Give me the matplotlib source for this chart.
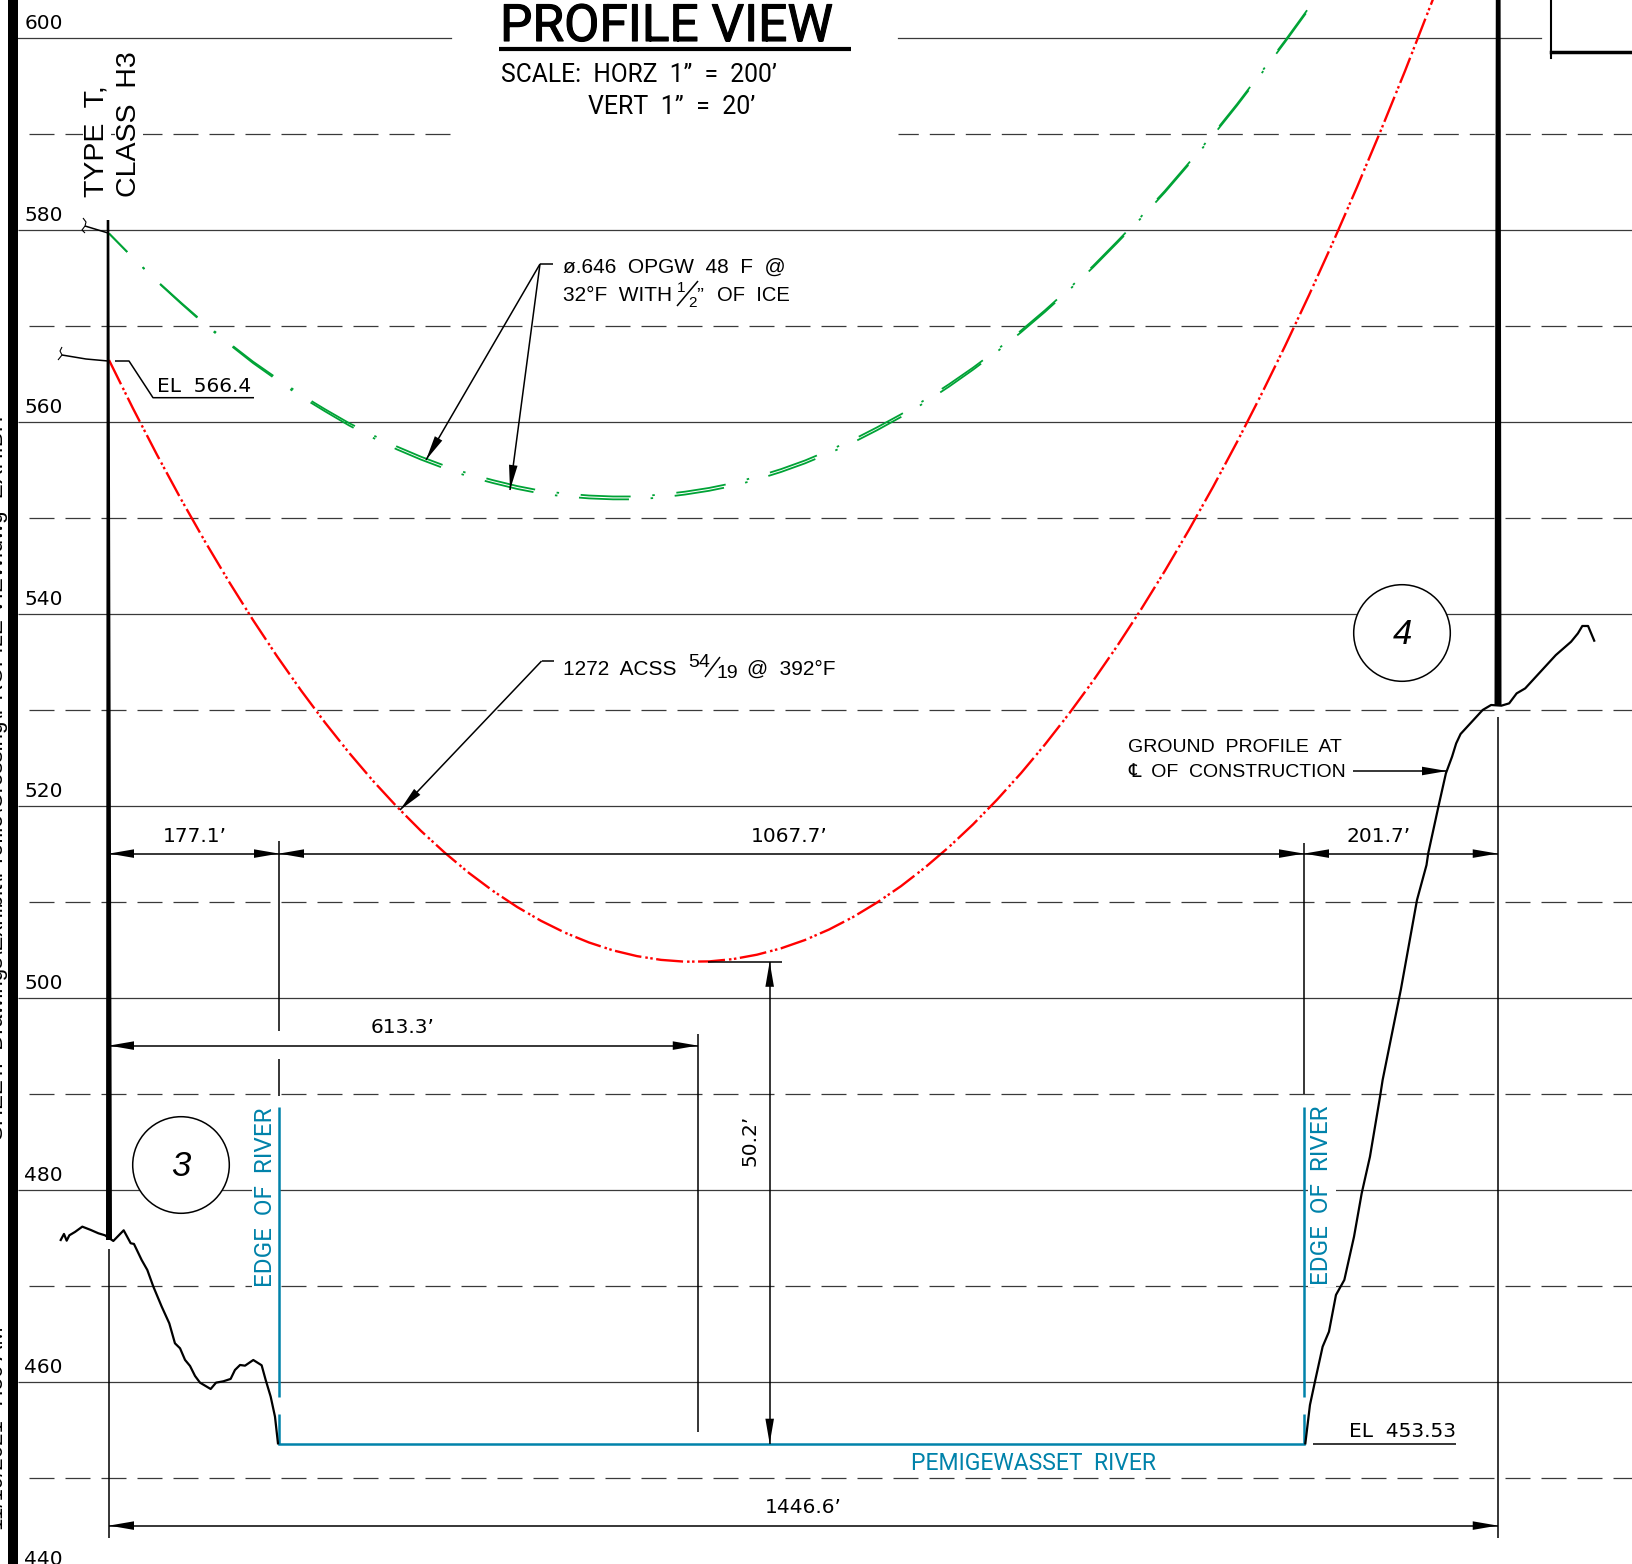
import matplotlib
matplotlib.use("Agg")
import matplotlib.pyplot as plt
from matplotlib.patches import Ellipse, Polygon
import matplotlib.patheffects as pe

plt.rcParams['lines.scale_dashes'] = False
plt.rcParams['font.family'] = ['Liberation Sans', 'DejaVu Sans']
NARROW = ['Roboto', 'Liberation Sans', 'DejaVu Sans']
WIDE = ['DejaVu Sans']

# ---------- data (station ft, elevation ft) ----------
solid_elevs = [460, 480, 500, 520, 540, 560, 580]
dashed_elevs = [450, 470, 490, 510, 530, 550, 570]
tick_labels = [440, 460, 480, 500, 520, 540, 560, 580, 600]

acss_station = [0, 25, 50, 75, 100, 125, 150, 175, 200, 225, 250, 275, 300, 325, 350, 375, 400, 425,
                450, 475, 500, 525, 550, 575, 600, 625, 650, 675, 700, 725, 750, 775, 800, 825, 850,
                875, 900, 925, 950, 975, 1000, 1025, 1050, 1075, 1100, 1125, 1150, 1175, 1200, 1225,
                1250, 1275, 1300, 1325, 1350, 1385]
acss_elev = [566.41, 561.37, 556.54, 551.92, 547.51, 543.32, 539.33, 535.56, 532.0, 528.65, 525.51,
             522.58, 519.87, 517.36, 515.07, 512.98, 511.11, 509.45, 508.0, 506.76, 505.74, 504.92,
             504.32, 503.93, 503.74, 503.77, 504.01, 504.47, 505.13, 506.0, 507.09, 508.39, 509.9,
             511.61, 513.55, 515.69, 518.04, 520.61, 523.38, 526.37, 529.57, 532.98, 536.6, 540.43,
             544.47, 548.73, 553.19, 557.87, 562.76, 567.86, 573.17, 578.69, 584.42, 590.37, 596.52,
             605.5]

opgw_station = [0, 25, 50, 75, 100, 125, 150, 175, 200, 225, 250, 275, 300, 325, 350, 375, 400, 425,
                450, 475, 500, 525, 550, 575, 600, 625, 650, 675, 700, 725, 750, 775, 800, 825, 850,
                875, 900, 925, 950, 975, 1000, 1025, 1050, 1075, 1100, 1125, 1150, 1175, 1200, 1225,
                1248]
opgw_lower = [579.6, 577.05, 574.6, 572.31, 570.1, 568.07, 566.1, 564.33, 562.6, 561.07, 559.6, 558.31,
              557.1, 556.04, 555.1, 554.27, 553.6, 552.99, 552.5, 552.2, 552.0, 551.9, 551.9, 552.1,
              552.4, 552.79, 553.3, 553.97, 554.75, 555.65, 556.7, 557.82, 559.1, 560.48, 562.0, 563.64,
              565.4, 567.28, 569.3, 571.43, 573.7, 576.06, 578.6, 581.19, 583.9, 586.81, 589.8, 592.92,
              596.2, 599.53, 602.7]
opgw_upper = [579.6, 577.07, 574.65, 572.39, 570.2, 568.19, 566.25, 564.51, 562.8, 561.29, 559.85, 558.58,
              557.4, 556.34, 555.4, 554.57, 553.9, 553.29, 552.8, 552.5, 552.3, 552.2, 552.2, 552.4,
              552.7, 553.09, 553.6, 554.27, 555.05, 555.95, 557.0, 558.12, 559.4, 560.76, 562.27, 563.89,
              565.62, 567.48, 569.48, 571.6, 573.85, 576.21, 578.75, 581.34, 584.05, 586.96, 589.95, 593.07,
              596.35, 599.68, 602.85]

ground_station = [-50.3, -46.9, -44.1, -41.3, -35.4, -27.8, -19.1, -11.1, -4.2, 4.5, 15.3, 22.6, 26.0,
                  34.0, 39.9, 46.2, 54.9, 62.8, 68.7, 74.0, 79.2, 84.4, 89.6, 94.8, 105.9, 111.5,
                  119.1, 126.7, 131.2, 136.5, 141.7, 150.3, 159.0, 163.2, 168.4, 172.9, 176.0]
ground_elev = [474.75, 475.38, 474.68, 475.24, 475.59, 476.14, 475.8, 475.45, 475.24, 474.65, 475.76,
               474.41, 474.34, 472.67, 471.63, 469.89, 467.81, 466.07, 463.99, 463.47, 462.26, 461.63,
               460.59, 459.89, 459.23, 459.89, 460.03, 460.28, 461.21, 461.73, 461.66, 462.25, 461.7,
               460.17, 458.44, 456.35, 453.57]
ground_station_r = [1246.2, 1251.0, 1256.2, 1264.2, 1270.8, 1278.1, 1286.8, 1296.9, 1304.9, 1313.5,
                    1324.0, 1326.7, 1345.7, 1362.5, 1372.4, 1374.2, 1384.8, 1392.6, 1399.0, 1403.3,
                    1407.9, 1430.9, 1439.7, 1450.4, 1458.5, 1466.3, 1475.2, 1507.1, 1523.0, 1530.1,
                    1534.7, 1540.7, 1547.1]
ground_elev_r = [453.57, 457.57, 460.0, 463.64, 465.2, 469.03, 470.59, 475.1, 479.62, 483.43, 489.68,
                 491.42, 500.85, 510.17, 513.81, 515.03, 519.89, 523.36, 525.09, 526.48, 527.46, 529.96,
                 530.48, 530.41, 530.65, 531.69, 532.21, 535.68, 537.07, 537.94, 538.71, 538.71, 537.18]

river_elev = 453.53
river_edges = [177.1, 1244.8]
span = 1446.6
low_point = 613.3
clearance = 50.2
clearance_station = 688.2
dim_row_upper = 515.0
dim_row_mid = 495.0
dim_row_lower = 445.0

# ---------- scales: 1 px = 1/0.96 ft across, 1/9.6 ft down ----------
X_SCALE, Y_SCALE = 0.96, 9.6

def xs(px):
    return (px - 109.0) / X_SCALE

def ye(py):
    return 600.0 - (py - 37.6) / Y_SCALE

W, H = 1633, 1564
fig = plt.figure(figsize=(W / 100, H / 100), dpi=100, facecolor='white')
ax = fig.add_axes([0, 0, 1, 1])
ax.set_xlim(xs(0), xs(W))
ax.set_ylim(ye(H), ye(0))
ax.axis('off')

GRID = '#3a3a3a'
BLUE = '#0082AA'
GREEN = '#00A336'
RED = '#FF0000'

def pt(px):
    return px * 0.72

# ---------- grid ----------
dash = (pt(25), pt(11))
grid_l = xs(17.5)
dash_l = xs(29.3)
for e in solid_elevs:
    ax.plot([grid_l, xs(W)], [e, e], color=GRID, lw=0.9, zorder=1, solid_capstyle='butt')
for e in dashed_elevs:
    ax.plot([dash_l, xs(W)], [e, e], color=GRID, lw=0.9, zorder=1, ls=(0, dash))
# top lines are interrupted by the title
ax.plot([grid_l, xs(451)], [600, 600], color=GRID, lw=0.9, zorder=1)
ax.plot([xs(898), xs(1541)], [600, 600], color=GRID, lw=0.9, zorder=1)
ax.plot([dash_l, xs(451)], [590, 590], color=GRID, lw=0.9, zorder=1, ls=(0, dash))
ax.plot([xs(898), xs(W)], [590, 590], color=GRID, lw=0.9, zorder=1, ls=(pt(4.7), dash))

# ---------- frame ----------
ax.axvspan(xs(8.3), xs(17.5), color='black', lw=0, zorder=8)
ax.plot([xs(1551), xs(1551)], [ye(0), ye(58)], color='black', lw=1.5, zorder=3)
ax.plot([xs(1551), xs(W)], [ye(52), ye(52)], color='black', lw=2.5, zorder=3)

# ---------- structures (tapered poles) ----------
ax.add_patch(Polygon([(xs(108 - 1.3), ye(220)), (xs(108 + 1.3), ye(220)), (xs(109 + 3), ye(1240)),
                      (xs(109 - 3), ye(1240))], closed=True, color='black', lw=0, zorder=6))
ax.add_patch(Polygon([(xs(1498.2 - 2.4), ye(0)), (xs(1498.2 + 2.4), ye(0)), (xs(1498 + 3.5), ye(706)),
                      (xs(1498 - 3.5), ye(706))], closed=True, color='black', lw=0, zorder=6))

# ---------- witness lines ----------
wit = dict(color='black', lw=1.1, zorder=5, solid_capstyle='butt')
ax.plot([0, 0], [ye(1249), ye(1538)], **wit)
ax.plot([span, span], [ye(717), ye(1538)], **wit)
ax.plot([river_edges[0]] * 2, [ye(841), ye(1031)], **wit)
ax.plot([river_edges[0]] * 2, [ye(1059), ye(1096)], **wit)
ax.plot([river_edges[1]] * 2, [ye(843), ye(1094)], **wit)
ax.plot([low_point] * 2, [ye(1034), ye(1432)], **wit)
ax.plot([xs(708), xs(782)], [river_elev + clearance] * 2, **wit)

# ---------- river ----------
for sx in (xs(278.7), xs(1304.3)):
    ax.plot([sx, sx], [ye(1107), ye(1397)], color=BLUE, lw=1.8, zorder=5, solid_capstyle='butt')
    ax.plot([sx, sx], [ye(1414), river_elev], color=BLUE, lw=1.8, zorder=5, solid_capstyle='butt')
ax.plot([xs(278.7), xs(1304.3)], [river_elev, river_elev], color=BLUE, lw=1.8, zorder=5)

# ---------- ground ----------
ax.plot(ground_station, ground_elev, color='black', lw=1.6, zorder=7, solid_joinstyle='round')
ax.plot(ground_station_r, ground_elev_r, color='black', lw=1.6, zorder=7, solid_joinstyle='round')

# ---------- conductors ----------
red_ls = (0, (pt(27), pt(4), pt(2.5), pt(2.5), pt(2.5), pt(3.5)))
ax.plot(acss_station, acss_elev, color=RED, lw=1.7, ls=red_ls, zorder=4)
green_ls = (pt(24), (pt(50), pt(21.7), pt(2.5), pt(21.7)))
ax.plot(opgw_station, opgw_lower, color=GREEN, lw=1.3, ls=green_ls, zorder=4)
ax.plot(opgw_station, opgw_upper, color=GREEN, lw=1.3, ls=green_ls, zorder=4)

# ---------- dimensions ----------
def head(tip, tail, length=25.0, half=4.3):
    dx = (tail[0] - tip[0]) * X_SCALE
    dy = (tail[1] - tip[1]) * Y_SCALE
    n = (dx * dx + dy * dy) ** 0.5
    ux, uy = dx / n, dy / n
    bx, by = ux * length, uy * length
    px_, py_ = -uy * half, ux * half
    ax.add_patch(Polygon([tip,
                          (tip[0] + (bx + px_) / X_SCALE, tip[1] + (by + py_) / Y_SCALE),
                          (tip[0] + (bx - px_) / X_SCALE, tip[1] + (by - py_) / Y_SCALE)],
                         closed=True, color='black', lw=0, zorder=6))

def dim(a, b, both=True):
    ax.plot([a[0], b[0]], [a[1], b[1]], color='black', lw=1.1, zorder=6, solid_capstyle='butt')
    head(b, a)
    if both:
        head(a, b)

dim((0, dim_row_upper), (river_edges[0], dim_row_upper))
dim((river_edges[0], dim_row_upper), (river_edges[1], dim_row_upper))
dim((river_edges[1], dim_row_upper), (span, dim_row_upper))
dim((0, dim_row_mid), (low_point, dim_row_mid))
dim((0, dim_row_lower), (span, dim_row_lower))
dim((clearance_station, river_elev), (clearance_station, river_elev + clearance))

# ---------- leaders ----------
def poly(points, lw=1.1):
    ax.plot([xs(p[0]) for p in points], [ye(p[1]) for p in points], color='black', lw=lw, zorder=6,
            solid_capstyle='butt')

poly([(553, 264), (540, 264)])
dim((xs(540), ye(264)), (xs(426), ye(460)), both=False)
dim((xs(540), ye(264)), (xs(510), ye(490)), both=False)
poly([(554, 661), (541.6, 661)])
dim((xs(541.6), ye(661)), (xs(400), ye(810)), both=False)
dim((xs(1353), ye(771)), (xs(1447), ye(771)), both=False)
poly([(115, 361), (129, 361), (153, 397.7), (254, 397.7)])
poly([(1313, 1443.7), (1456, 1443.7)])
poly([(108, 233), (85, 226)])
poly([(83, 218), (86, 222), (85, 226), (82, 230), (85, 233)], lw=0.8)
poly([(108, 361), (86, 359), (62, 355)])
poly([(62, 347), (60, 351), (62, 355), (58, 360)], lw=0.8)

# ---------- title underline ----------
poly([(499, 49), (851, 49)], lw=3)

# ---------- circles ----------
for cx, cy, num in ((181, 1165, '3'), (1402, 633, '4')):
    ax.add_patch(Ellipse((xs(cx), ye(cy)), 96.6 / X_SCALE, 96.6 / Y_SCALE, fc='white', ec='black', lw=1.1, zorder=3))
    ax.text(xs(cx), ye(cy + 2), num, fontsize=25, style='italic', ha='center', va='center', zorder=6)

# ---------- text ----------
def label(px, py, s, size=15, **kw):
    kw.setdefault('va', 'baseline')
    kw.setdefault('zorder', 6)
    return ax.text(xs(px), ye(py), s, fontsize=size, **kw)

for v in tick_labels:
    ax.text(xs(24.5), v + 9 / Y_SCALE, str(v), fontsize=14.5, family=WIDE, va='baseline', zorder=6)

title = label(500, 41, 'PROFILE VIEW', 37, family=NARROW)
title.set_path_effects([pe.withStroke(linewidth=0.8, foreground='black')])
label(501, 82, 'SCALE:  HORZ  1”  =  200’', 17.7, family=NARROW)
label(588, 114, 'VERT  1”  =  20’', 18, family=NARROW)

label(104, 196.7, 'TYPE  T,', 20.5, rotation=90, ha='left', rotation_mode='anchor', zorder=2,
      bbox=dict(fc='white', ec='none', pad=1))
label(136, 196.7, 'CLASS  H3', 20.5, rotation=90, ha='left', rotation_mode='anchor', zorder=2,
      bbox=dict(fc='white', ec='none', pad=1))

label(563, 273, 'ø.646  OPGW  48  F  @', 15)
label(563, 301, '32°F  WITH', 15)
label(677, 292, '1', 11)
poly([(677, 306), (698, 281)])
label(688, 307, '2', 11)
label(696, 301, '”', 15)
label(717, 301, 'OF  ICE', 14.5)
label(563, 675, '1272  ACSS', 15)
label(688, 667, '54', 14)
poly([(705, 677), (720, 657)])
label(717, 678, '19', 14)
label(747, 675, '@  392°F', 15)
label(157, 391.6, 'EL  566.4', 14.5, family=WIDE)
label(1349, 1437, 'EL  453.53', 14.5, family=WIDE)

label(195, 841.7, '177.1’', 14.5, ha='center', family=WIDE)
label(789, 841.7, '1067.7’', 14.5, ha='center', family=WIDE)
label(1379, 841.7, '201.7’', 14.5, ha='center', family=WIDE)
label(403, 1033, '613.3’', 14.5, ha='center', family=WIDE)
label(803, 1513, '1446.6’', 14.5, ha='center', family=WIDE)
label(750, 1140, '50.2’', 14.5, rotation=90, ha='center', va='center', family=WIDE)

label(1128, 752, 'GROUND  PROFILE  AT', 14)
label(1128, 777, '℄  OF  CONSTRUCTION', 14)

label(266, 1197, 'EDGE  OF  RIVER', 17.5, family=NARROW, color=BLUE, rotation=90, ha='center', va='center', zorder=2,
      bbox=dict(fc='white', ec='none', pad=2))
label(1322, 1195, 'EDGE  OF  RIVER', 17.5, family=NARROW, color=BLUE, rotation=90, ha='center', va='center', zorder=2,
      bbox=dict(fc='white', ec='none', pad=2))
label(911, 1470, 'PEMIGEWASSET  RIVER', 16.6, family=NARROW, color=BLUE)

# clipped plot stamp along the sheet edge
label(3.5, 1530, '11/19/2021  7:50 AM', 16, rotation=90, ha='left', rotation_mode='anchor')
label(3.5, 1140, 'SHEET:  Drawings\\Exhibit\\Profile\\Crossing\\PROFILE VIEW.dwg  EXHIBIT', 16, rotation=90,
      ha='left', rotation_mode='anchor')

fig.savefig('out.png', dpi=100, facecolor='white')
